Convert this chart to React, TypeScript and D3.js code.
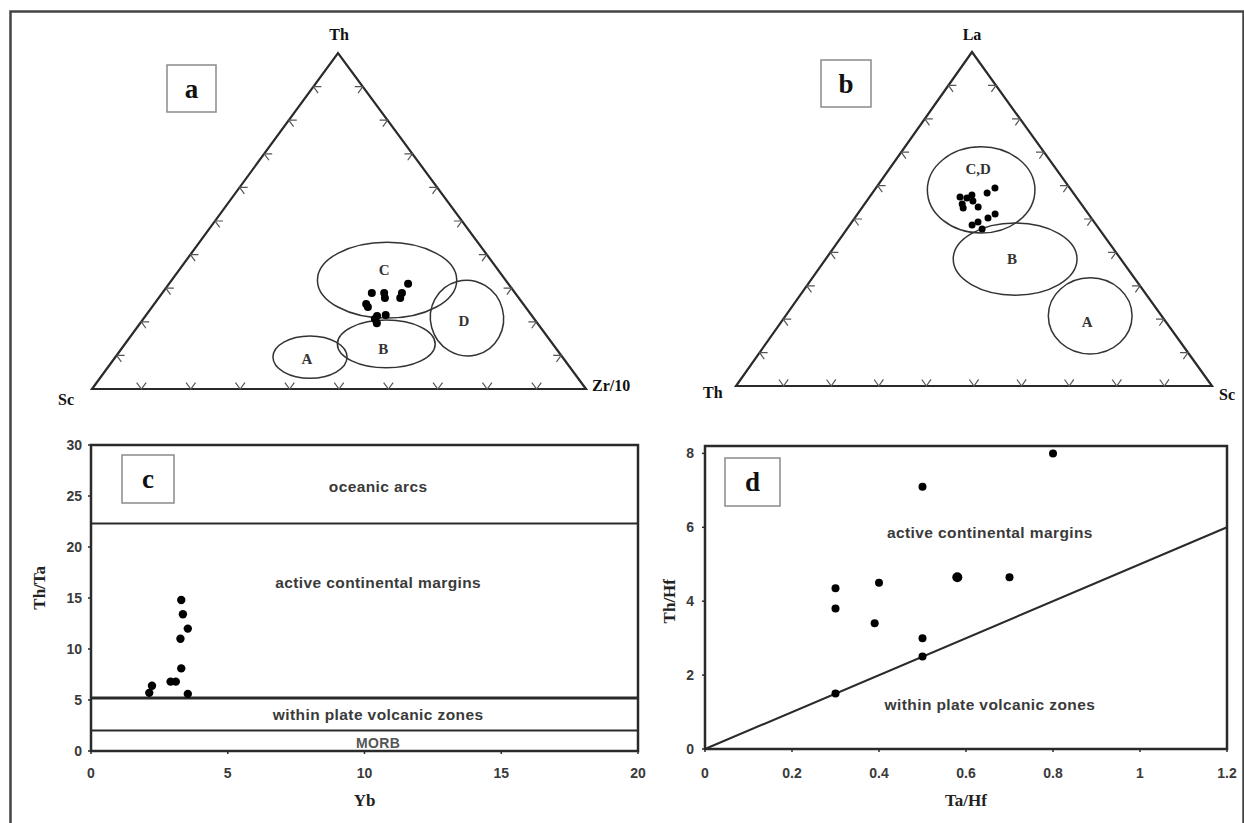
import React from "react";
import * as d3 from "d3";

// ---------- DATA ----------
// Panel a: Th – Sc – Zr/10 ternary (values in %: Th, Zr/10; Sc = remainder)
const aCorners = { top: "Th", left: "Sc", right: "Zr/10" };
const aPointsTh = [31.3, 28.6, 27.1, 28.6, 27.1, 28.6, 25.3, 24.4, 21.7, 22.0, 19.6, 20.8];
const aPointsZr = [48.4, 48.5, 48.9, 44.9, 45.8, 42.4, 42.9, 43.7, 46.9, 48.5, 47.9, 46.9];
// fields: centre (top %, right %), half-axes (% of base, % of height), rotation
const aFieldNames = ["A", "B", "C", "D"];
const aFieldTop = [9.5, 13.4, 32.4, 21.1];
const aFieldRight = [39.4, 52.9, 43.6, 65.4];
const aFieldRx = [7.5, 9.9, 14.1, 7.4];
const aFieldRy = [6.3, 7.1, 11.3, 11.3];
const aFieldRot = [0, 0, 0, -15];
const aFieldLabelDy = [2, 5, -10, 3];

// Panel b: La – Th – Sc ternary (values in %: La, Sc; Th = remainder)
const bCorners = { top: "La", left: "Th", right: "Sc" };
const bPointsLa = [56.6, 54.5, 57.2, 55.4, 53.3, 53.6, 57.8, 59.3, 48.2, 49.1, 47.0, 50.3, 51.5, 56.3];
const bPointsSc = [19.0, 20.5, 21.2, 22.3, 21.3, 24.3, 24.1, 25.0, 25.7, 26.5, 28.4, 28.0, 28.9, 20.6];
const bFieldNames = ["A", "B", "C,D"];
const bFieldTop = [21.0, 38.0, 58.7];
const bFieldRight = [64.0, 39.8, 22.4];
const bFieldRx = [8.8, 13.0, 11.3];
const bFieldRy = [11.4, 10.8, 12.9];
const bFieldLabelDy = [6, 0, -21];

const ternaryTicks = [10, 20, 30, 40, 50, 60, 70, 80, 90];

// Panel c: Th/Ta vs Yb
const cYb = [3.3, 3.36, 3.54, 3.27, 3.3, 2.91, 3.1, 2.23, 2.13, 3.54];
const cThTa = [14.8, 13.4, 12.0, 11.0, 8.1, 6.8, 6.8, 6.4, 5.7, 5.6];
const cXTicks = [0, 5, 10, 15, 20];
const cYTicks = [0, 5, 10, 15, 20, 25, 30];
const cBoundaries = [22.3, 5.2, 2.0];
const cRegions = ["oceanic arcs", "active continental margins", "within plate volcanic zones", "MORB"];
const cRegionY = [25.9, 16.5, 3.5, 0.8];

// Panel d: Th/Hf vs Ta/Hf
const dTaHf = [0.8, 0.5, 0.3, 0.3, 0.4, 0.39, 0.58, 0.7, 0.5, 0.5, 0.3];
const dThHf = [8.0, 7.1, 4.35, 3.8, 4.5, 3.4, 4.65, 4.65, 3.0, 2.5, 1.5];
const dXTicks = [0, 0.2, 0.4, 0.6, 0.8, 1, 1.2];
const dYTicks = [0, 2, 4, 6, 8];
const dBoundaryX = [0, 1.2];
const dBoundaryY = [0, 6];
const dRegions = ["active continental margins", "within plate volcanic zones"];
const dRegionY = [5.85, 1.2];

// ---------- HELPERS ----------
type P = [number, number];
function makeTernary(L: P, R: P, T: P) {
  const sx = d3.scaleLinear().domain([0, 100]).range([0, R[0] - L[0]]);
  const tx = d3.scaleLinear().domain([0, 100]).range([0, T[0] - L[0]]);
  const sy = d3.scaleLinear().domain([0, 100]).range([L[1], T[1]]);
  const proj = (top: number, right: number): P => [L[0] + sx(right) + tx(top), sy(top)];
  return { proj, width: R[0] - L[0], height: L[1] - T[1] };
}
const unit = (a: P, b: P): P => {
  const dx = b[0] - a[0], dy = b[1] - a[1];
  const l = Math.hypot(dx, dy);
  return [dx / l, dy / l];
};

const serif = "'Liberation Serif', 'DejaVu Serif', serif";
const sans = "'Liberation Sans', Arial, sans-serif";
const lineCol = "#2a2a2a";

function TernaryPanel(props: {
  L: P; R: P; T: P; corners: { top: string; left: string; right: string };
  cornerPos: { top: P; left: P; right: P };
  pts: P[]; dotR: number;
  fields: { name: string; top: number; right: number; rx: number; ry: number; rot: number; dy: number }[];
  box: { x: number; y: number; w: number; h: number; letter: string };
}) {
  const { L, R, T } = props;
  const tern = makeTernary(L, R, T);
  const len = 8;
  const chev = (p: P, u1: P, u2: P) =>
    `M${p[0] + u1[0] * len},${p[1] + u1[1] * len}L${p[0]},${p[1]}L${p[0] + u2[0] * len},${p[1] + u2[1] * len}`;
  const ticks: string[] = [];
  ternaryTicks.forEach((t) => {
    ticks.push(chev(tern.proj(0, t), unit(L, T), unit(R, T)));
    ticks.push(chev(tern.proj(t, 0), unit(L, R), unit(T, R)));
    ticks.push(chev(tern.proj(t, 100 - t), unit(R, L), unit(T, L)));
  });
  return (
    <g>
      <path d={`M${L[0]},${L[1]}L${R[0]},${R[1]}L${T[0]},${T[1]}Z`} fill="none" stroke={lineCol} strokeWidth={2.2} strokeLinejoin="miter" />
      <path d={ticks.join("")} fill="none" stroke="#555" strokeWidth={1.2} />
      {props.fields.map((f, i) => {
        const c = tern.proj(f.top, f.right);
        return (
          <g key={i}>
            <ellipse cx={c[0]} cy={c[1]} rx={(f.rx / 100) * tern.width} ry={(f.ry / 100) * tern.height}
              transform={`rotate(${f.rot},${c[0]},${c[1]})`} fill="none" stroke="#333" strokeWidth={1.5} />
            <text x={c[0] - 3} y={c[1] + f.dy + 5} textAnchor="middle" fontFamily={serif} fontWeight="bold" fontSize={15} fill="#333">{f.name}</text>
          </g>
        );
      })}
      {props.pts.map((p, i) => {
        const c = tern.proj(p[0], p[1]);
        return <circle key={i} cx={c[0]} cy={c[1]} r={props.dotR} fill="#000" />;
      })}
      <text x={props.cornerPos.top[0]} y={props.cornerPos.top[1]} textAnchor="middle" fontFamily={serif} fontWeight="bold" fontSize={16} fill="#111">{props.corners.top}</text>
      <text x={props.cornerPos.left[0]} y={props.cornerPos.left[1]} fontFamily={serif} fontWeight="bold" fontSize={16} fill="#111">{props.corners.left}</text>
      <text x={props.cornerPos.right[0]} y={props.cornerPos.right[1]} fontFamily={serif} fontWeight="bold" fontSize={16} fill="#111">{props.corners.right}</text>
      <LetterBox {...props.box} />
    </g>
  );
}

function LetterBox(b: { x: number; y: number; w: number; h: number; letter: string }) {
  return (
    <g>
      <rect x={b.x} y={b.y} width={b.w} height={b.h} fill="#fff" stroke="#8a8a8a" strokeWidth={1.5} />
      <text x={b.x + b.w / 2} y={b.y + b.h / 2 + 9} textAnchor="middle" fontFamily={serif} fontWeight="bold" fontSize={27} fill="#111">{b.letter}</text>
    </g>
  );
}

export default function App() {
  // panel c scales
  const cx = d3.scaleLinear().domain([0, 20]).range([91, 638]);
  const cy = d3.scaleLinear().domain([0, 30]).range([751, 445]);
  // panel d scales
  const dx = d3.scaleLinear().domain([0, 1.2]).range([705, 1227]);
  const dy = d3.scaleLinear().domain([0, 8.2]).range([749, 446]);
  const dLine = d3.line<number>().x((_, i) => dx(dBoundaryX[i])).y((_, i) => dy(dBoundaryY[i]));

  const aPts: P[] = aPointsTh.map((t, i) => [t, aPointsZr[i]]);
  const bPts: P[] = bPointsLa.map((t, i) => [t, bPointsSc[i]]);
  const aFields = aFieldNames.map((n, i) => ({ name: n, top: aFieldTop[i], right: aFieldRight[i], rx: aFieldRx[i], ry: aFieldRy[i], rot: aFieldRot[i], dy: aFieldLabelDy[i] }));
  const bFields = bFieldNames.map((n, i) => ({ name: n, top: bFieldTop[i], right: bFieldRight[i], rx: bFieldRx[i], ry: bFieldRy[i], rot: 0, dy: bFieldLabelDy[i] }));
  const tickLab = { fontFamily: sans, fontWeight: "bold" as const, fontSize: 14, fill: "#3a3a3a" };
  const regionLab = { fontFamily: sans, fontWeight: "bold" as const, fontSize: 15.5, fill: "#3a3a3a", letterSpacing: 0.4 };

  return (
    <svg width={1244} height={823} style={{ position: "absolute", left: 0, top: 0, background: "#fff" }}>
      <rect x={0} y={0} width={1244} height={823} fill="#fff" />
      {/* outer frame */}
      <path d="M10.5,830V11.5H1243.5V830" fill="none" stroke="#444" strokeWidth={2.5} />

      {/* Panel a */}
      <TernaryPanel L={[92, 389]} R={[586, 389]} T={[338, 53]} corners={aCorners}
        cornerPos={{ top: [339, 40], left: [58, 405], right: [592, 391] }}
        pts={aPts} dotR={4} fields={aFields}
        box={{ x: 167, y: 65, w: 49, h: 47, letter: "a" }} />

      {/* Panel b */}
      <TernaryPanel L={[736, 386]} R={[1212, 386]} T={[972, 52]} corners={bCorners}
        cornerPos={{ top: [972, 40], left: [703, 398], right: [1219, 400] }}
        pts={bPts} dotR={3.5} fields={bFields}
        box={{ x: 821, y: 60, w: 50, h: 47, letter: "b" }} />

      {/* Panel c */}
      <g>
        <rect x={cx(0)} y={cy(30)} width={cx(20) - cx(0)} height={cy(0) - cy(30)} fill="none" stroke={lineCol} strokeWidth={2.5} />
        {cBoundaries.map((v, i) => (
          <line key={i} x1={cx(0)} x2={cx(20)} y1={cy(v)} y2={cy(v)} stroke={lineCol} strokeWidth={i === 1 ? 3 : 2} />
        ))}
        {cYTicks.map((t) => (
          <g key={"cy" + t}>
            <line x1={cx(0) - 3} x2={cx(0)} y1={cy(t)} y2={cy(t)} stroke={lineCol} strokeWidth={1.5} />
            <text x={cx(0) - 9} y={cy(t) + 5} textAnchor="end" {...tickLab}>{t}</text>
          </g>
        ))}
        {cXTicks.map((t) => (
          <g key={"cx" + t}>
            <line x1={cx(t)} x2={cx(t)} y1={cy(0)} y2={cy(0) + 3} stroke={lineCol} strokeWidth={1.5} />
            <text x={cx(t)} y={cy(0) + 27} textAnchor="middle" {...tickLab}>{t}</text>
          </g>
        ))}
        {cRegions.map((r, i) => (
          <text key={r} x={cx(10.5)} y={cy(cRegionY[i]) + 5} textAnchor="middle" {...regionLab}
            fontSize={i === 3 ? 14 : 15.5} fill={i === 3 ? "#555" : "#3a3a3a"}>{r}</text>
        ))}
        {cYb.map((v, i) => (
          <circle key={i} cx={cx(v)} cy={cy(cThTa[i])} r={4.2} fill="#000" />
        ))}
        <text x={cx(10)} y={806} textAnchor="middle" fontFamily={serif} fontWeight="bold" fontSize={17} fill="#222">Yb</text>
        <text transform={`translate(45,${cy(16)}) rotate(-90)`} textAnchor="middle" fontFamily={serif} fontWeight="bold" fontSize={17} fill="#222">Th/Ta</text>
        <LetterBox x={122} y={455} w={52} h={48} letter="c" />
      </g>

      {/* Panel d */}
      <g>
        <rect x={dx(0)} y={dy(8.2)} width={dx(1.2) - dx(0)} height={dy(0) - dy(8.2)} fill="none" stroke={lineCol} strokeWidth={2.5} />
        <path d={dLine(dBoundaryX) || ""} fill="none" stroke={lineCol} strokeWidth={2} />
        {dYTicks.map((t) => (
          <g key={"dy" + t}>
            <line x1={dx(0) - 3} x2={dx(0)} y1={dy(t)} y2={dy(t)} stroke={lineCol} strokeWidth={1.5} />
            <text x={dx(0) - 11} y={dy(t) + 5} textAnchor="end" {...tickLab}>{t}</text>
          </g>
        ))}
        {dXTicks.map((t) => (
          <g key={"dx" + t}>
            <line x1={dx(t)} x2={dx(t)} y1={dy(0)} y2={dy(0) + 3} stroke={lineCol} strokeWidth={1.5} />
            <text x={dx(t)} y={dy(0) + 29} textAnchor="middle" {...tickLab}>{t}</text>
          </g>
        ))}
        {dRegions.map((r, i) => (
          <text key={r} x={dx(0.655)} y={dy(dRegionY[i]) + 5} textAnchor="middle" {...regionLab}>{r}</text>
        ))}
        {dTaHf.map((v, i) => (
          <circle key={i} cx={dx(v)} cy={dy(dThHf[i])} r={v === 0.58 ? 5 : 4} fill="#000" />
        ))}
        <text x={dx(0.6)} y={806} textAnchor="middle" fontFamily={serif} fontWeight="bold" fontSize={17} fill="#222">Ta/Hf</text>
        <text transform={`translate(675,${dy(4)}) rotate(-90)`} textAnchor="middle" fontFamily={serif} fontWeight="bold" fontSize={17} fill="#222">Th/Hf</text>
        <LetterBox x={725} y={458} w={55} h={48} letter="d" />
      </g>
    </svg>
  );
}
